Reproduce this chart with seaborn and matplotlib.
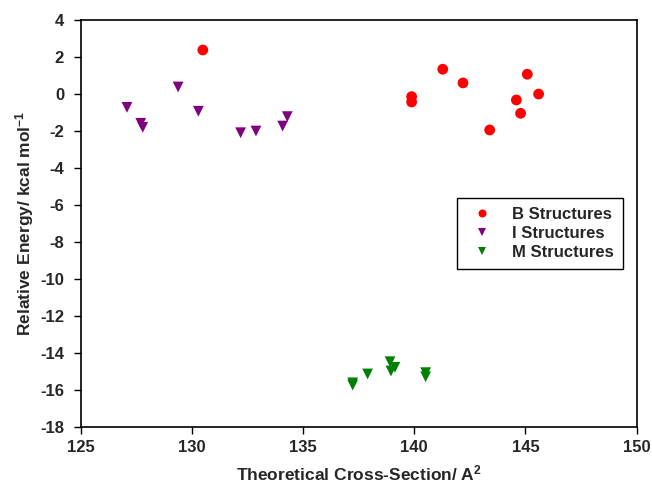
import matplotlib
matplotlib.use("Agg")
import matplotlib.pyplot as plt
import seaborn as sns
import pandas as pd

b_x = [130.49, 141.28, 142.19, 139.88, 139.88, 143.39, 144.59, 144.78, 145.08, 145.59]
b_y = [2.38, 1.34, 0.60, -0.14, -0.43, -1.94, -0.32, -1.04, 1.07, 0.00]

i_x = [127.08, 127.70, 127.79, 129.38, 130.29, 132.19, 132.88, 134.08, 134.29]
i_y = [-0.72, -1.58, -1.80, 0.38, -0.93, -2.09, -2.00, -1.73, -1.22]

m_x = [137.23, 137.23, 137.90, 138.91, 139.13, 138.95, 140.51, 140.51]
m_y = [-15.60, -15.72, -15.12, -14.46, -14.76, -14.96, -15.05, -15.27]

series = ["B Structures", "I Structures", "M Structures"]
x_ticks = [125, 130, 135, 140, 145, 150]
y_ticks = [-18, -16, -14, -12, -10, -8, -6, -4, -2, 0, 2, 4]

df = pd.DataFrame({
    "x": b_x + i_x + m_x,
    "y": b_y + i_y + m_y,
    "series": [series[0]] * len(b_x) + [series[1]] * len(i_x) + [series[2]] * len(m_x),
})

sns.set_style("white")
plt.rcParams["font.family"] = ["Liberation Sans", "DejaVu Sans"]
plt.rcParams["mathtext.fontset"] = "custom"
plt.rcParams["mathtext.rm"] = "Liberation Sans:bold"
plt.rcParams["mathtext.bf"] = "Liberation Sans:bold"
plt.rcParams["mathtext.it"] = "Liberation Sans:bold"
plt.rcParams["mathtext.default"] = "bf"

fig = plt.figure(figsize=(6.52, 4.84), dpi=100)
ax = fig.add_axes([0.1238, 0.1172, 0.8527, 0.8415])

palette = {series[0]: "#FF0000", series[1]: "#800080", series[2]: "#008000"}
markers = {series[0]: "o", series[1]: "v", series[2]: "v"}

sns.scatterplot(data=df, x="x", y="y", hue="series", style="series",
                palette=palette, markers=markers, s=60, linewidth=0,
                ax=ax, legend=True)

ax.set_xlim(125, 150)
ax.set_ylim(-18, 4)
ax.set_xticks(x_ticks)
ax.set_yticks(y_ticks)
ax.set_xticklabels([str(t) for t in x_ticks], fontweight="bold", fontsize=12)
ax.set_yticklabels([str(t) for t in y_ticks], fontweight="bold", fontsize=12)
ax.tick_params(axis="both", which="major", direction="out", length=5, width=1,
               color="black", bottom=True, left=True, top=False, right=False)
ax.tick_params(axis="y", pad=7)
ax.tick_params(axis="x", pad=4)

for sp in ax.spines.values():
    sp.set_visible(True)
    sp.set_color("black")
    sp.set_linewidth(1.2)

ax.set_xlabel(r"Theoretical Cross-Section/ A$^{2}$", fontweight="bold", fontsize=12.5, labelpad=6)
ax.set_ylabel(r"Relative Energy/ kcal mol$^{-1}$", fontweight="bold", fontsize=12.5, labelpad=3)

leg = ax.legend(loc="upper left", bbox_to_anchor=(0.661, 0.584), frameon=True,
                fancybox=False, edgecolor="black", framealpha=1,
                prop={"weight": "bold", "size": 12}, handletextpad=0.8,
                borderpad=0.55, labelspacing=0.23, markerscale=0.75)
leg.get_frame().set_linewidth(1.0)

fig.savefig("out.png", dpi=100)
